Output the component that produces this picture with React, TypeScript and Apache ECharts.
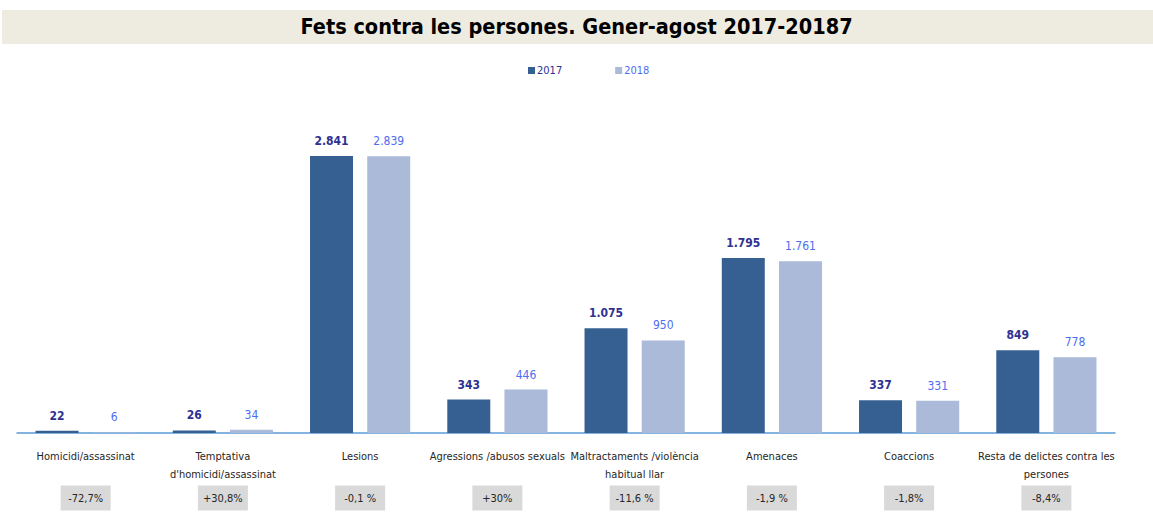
import React, { useEffect, useRef } from "react";
import * as echarts from "echarts";

const categories = [
  "Homicidi/assassinat",
  "Temptativa\nd'homicidi/assassinat",
  "Lesions",
  "Agressions /abusos sexuals",
  "Maltractaments /violència\nhabitual llar",
  "Amenaces",
  "Coaccions",
  "Resta de delictes contra les\npersones",
];
const values2017 = [22, 26, 2841, 343, 1075, 1795, 337, 849];
const values2018 = [6, 34, 2839, 446, 950, 1761, 331, 778];
const changes = ["-72,7%", "+30,8%", "-0,1 %", "+30%", "-11,6 %", "-1,9 %", "-1,8%", "-8,4%"];
const seriesNames = ["2017", "2018"];

const FONT = "'DejaVu Sans Condensed', 'Noto Sans', sans-serif";
const C2017 = "#366092";
const C2018 = "#AABAD8";
const L2017 = "#2E3192";
const L2018 = "#4D6DF0";

const fmt = (v: number) => String(v).replace(/\B(?=(\d{3})+(?!\d))/g, ".");

export default function App() {
  const ref = useRef<HTMLDivElement>(null);
  useEffect(() => {
    document.body.style.margin = "0";
    const chart = echarts.init(ref.current!, null, { renderer: "svg" });
    chart.setOption({
      animation: false,
      backgroundColor: "#ffffff",
      textStyle: { fontFamily: FONT },
      graphic: [
        {
          type: "rect",
          left: 2,
          top: 10,
          shape: { width: 1151, height: 34 },
          style: { fill: "#EEECE1" },
          z: -1,
        },
      ],
      title: {
        text: "Fets contra les persones. Gener-agost 2017-20187",
        left: "center",
        top: 10,
        textStyle: { fontFamily: FONT, fontSize: 21.5, fontWeight: "bold", color: "#000" },
      },
      legend: {
        top: 60,
        left: 523,
        itemWidth: 7,
        itemHeight: 7,
        itemGap: 53,
        icon: "rect",
        data: [
          { name: seriesNames[0], textStyle: { color: L2017 } },
          { name: seriesNames[1], textStyle: { color: L2018 } },
        ],
        textStyle: { fontFamily: FONT, fontSize: 11, padding: [0, 0, 0, -3] },
      },
      grid: { left: 17, right: 38, top: 140.5, bottom: 80, containLabel: false },
      xAxis: [
        {
          type: "category",
          data: categories,
          axisLine: { lineStyle: { color: "#5B9BD5", width: 1.5 } },
          axisTick: { show: false },
          axisLabel: {
            interval: 0,
            margin: 14,
            fontFamily: FONT,
            fontSize: 11,
            lineHeight: 18,
            color: "#262626",
          },
        },
        {
          type: "category",
          data: categories,
          position: "bottom",
          axisLine: { show: false },
          axisTick: { show: false },
          axisLabel: {
            interval: 0,
            margin: 59,
            formatter: (_: string, i: number) => `{b|${changes[i]}}`,
            rich: {
              b: {
                fontFamily: FONT,
                fontSize: 11,
                color: "#262626",
                backgroundColor: "#D9D9D9",
                width: 34,
                align: "center",
                lineHeight: 12,
                padding: [7, 8],
              },
            },
          },
        },
      ],
      yAxis: { type: "value", min: 0, max: 3000, show: false, splitLine: { show: false } },
      series: [
        {
          name: seriesNames[0],
          type: "bar",
          data: values2017,
          itemStyle: { color: C2017 },
          barGap: "33%",
          barCategoryGap: "27%",
          label: {
            show: true,
            position: "top",
            distance: 9,
            formatter: (p: any) => fmt(p.value),
            fontFamily: FONT,
            fontSize: 12,
            fontWeight: "bold",
            color: L2017,
          },
        },
        {
          name: seriesNames[1],
          type: "bar",
          data: values2018,
          itemStyle: { color: C2018 },
          barGap: "33%",
          barCategoryGap: "27%",
          label: {
            show: true,
            position: "top",
            distance: 9,
            formatter: (p: any) => fmt(p.value),
            fontFamily: FONT,
            fontSize: 12,
            color: L2018,
          },
        },
      ],
    });
    return () => chart.dispose();
  }, []);
  return <div ref={ref} style={{ width: 1153, height: 513 }} />;
}
